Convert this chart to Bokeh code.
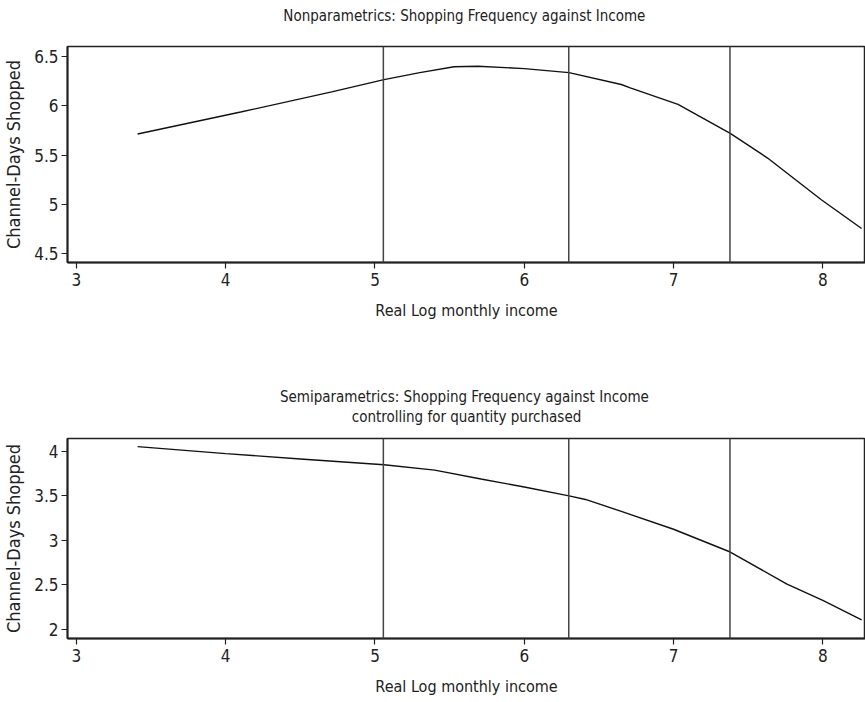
from bokeh.plotting import figure
from bokeh.models import Range1d, Span, Title, FixedTicker
from bokeh.layouts import column
from bokeh.embed import file_html
from bokeh.resources import INLINE

# ---- data ----
income_top = [3.41, 4.10, 4.71, 5.06, 5.30, 5.53, 5.69, 6.00, 6.30, 6.65, 6.71, 7.03, 7.38, 7.63, 7.99, 8.26]
freq_top = [5.714, 5.936, 6.14, 6.265, 6.335, 6.395, 6.40, 6.376, 6.335, 6.215, 6.18, 6.013, 5.72, 5.47, 5.048, 4.756]

income_bot = [3.41, 4.00, 4.50, 5.06, 5.40, 5.71, 6.00, 6.30, 6.41, 6.65, 7.00, 7.38, 7.76, 8.00, 8.26]
freq_bot = [4.054, 3.975, 3.915, 3.85, 3.79, 3.69, 3.60, 3.50, 3.46, 3.326, 3.125, 2.869, 2.507, 2.325, 2.107]

income_cuts = [5.056, 6.298, 7.378]

x_ticks = [3, 4, 5, 6, 7, 8]
y_ticks_top = [4.5, 5, 5.5, 6, 6.5]
y_ticks_bot = [2, 2.5, 3, 3.5, 4]

title_top = "Nonparametrics:  Shopping Frequency against Income"
title_bot1 = "Semiparametrics:  Shopping Frequency against Income"
title_bot2 = "controlling for quantity purchased"
x_label = "Real Log monthly income"
y_label = "Channel-Days Shopped"

FONT = "'Liberation Sans Narrow', 'DejaVu Sans Condensed', 'Roboto Condensed', sans-serif"
TXT = "#222222"


def style(p, yticks):
    p.xgrid.visible = False
    p.ygrid.visible = False
    p.outline_line_color = "#222222"
    p.outline_line_width = 1.5
    for ax in (p.xaxis[0], p.yaxis[0]):
        ax.axis_line_color = "#222222"
        ax.axis_line_width = 2
        ax.major_tick_line_color = "#222222"
        ax.major_tick_line_width = 1.2
        ax.major_tick_in = 0
        ax.major_tick_out = 6
        ax.minor_tick_line_color = None
        ax.major_label_text_font = FONT
        ax.major_label_text_font_size = "17px"
        ax.major_label_text_color = TXT
        ax.axis_label_text_font = FONT
        ax.axis_label_text_font_style = "normal"
        ax.axis_label_text_color = TXT
    p.xaxis[0].axis_label_text_font_size = "16px"
    p.yaxis[0].axis_label_text_font_size = "18px"
    p.xaxis[0].ticker = FixedTicker(ticks=x_ticks)
    p.yaxis[0].ticker = FixedTicker(ticks=yticks)
    p.xaxis[0].axis_label = x_label
    p.yaxis[0].axis_label = y_label
    p.xaxis[0].axis_label_standoff = 12
    p.yaxis[0].axis_label_standoff = 7
    p.xaxis[0].major_label_standoff = 4
    p.yaxis[0].major_label_standoff = 3
    for c in income_cuts:
        p.add_layout(Span(location=c, dimension="height", line_color="#444444", line_width=1.5))


def make_title(text, standoff, size="15px"):
    return Title(text=text, align="center", text_font=FONT, text_font_size=size,
                 text_font_style="normal", text_color=TXT, standoff=standoff)


# ---- top panel ----
p1 = figure(width=865, height=322, output_backend="svg", toolbar_location=None,
            x_range=Range1d(2.94, 8.286), y_range=Range1d(4.412, 6.60),
            min_border_left=65, min_border_right=0, min_border_top=46, min_border_bottom=0)
p1.add_layout(make_title(title_top + "\n", 8), "above")
style(p1, y_ticks_top)
p1.line(income_top, freq_top, line_color="#111111", line_width=1.4)

# ---- bottom panel ----
p2 = figure(width=865, height=376, output_backend="svg", toolbar_location=None,
            x_range=Range1d(2.94, 8.286), y_range=Range1d(1.897, 4.145),
            min_border_left=65, min_border_right=0, min_border_top=116, min_border_bottom=0)
p2.add_layout(make_title(" ", 10, "1px"), "above")   # spacing between subtitle and frame
p2.add_layout(make_title(title_bot2, 0), "above")
p2.add_layout(make_title(title_bot1, 0), "above")
style(p2, y_ticks_bot)
p2.line(income_bot, freq_bot, line_color="#111111", line_width=1.4)

layout = column(p1, p2, spacing=0)
open("out.html", "w").write(file_html(layout, INLINE))
